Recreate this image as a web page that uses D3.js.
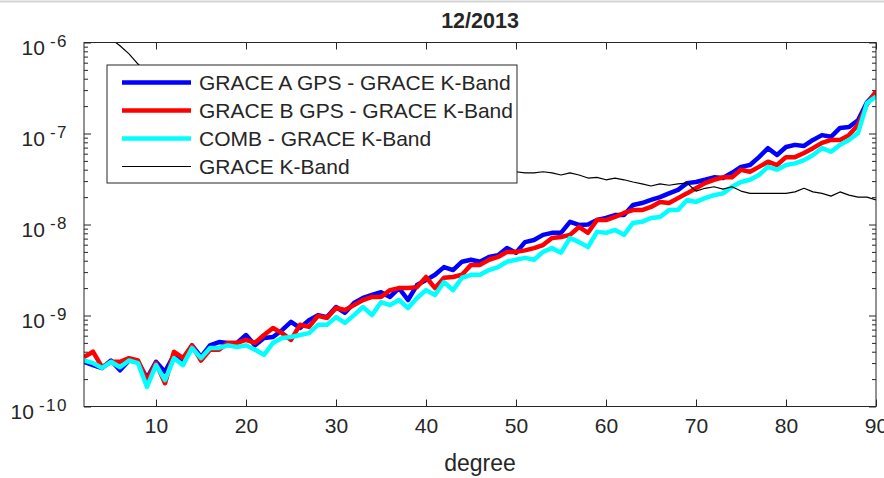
<!DOCTYPE html>
<html>
<head>
<meta charset="utf-8">
<script src="https://cdn.jsdelivr.net/npm/d3@7"></script>
<style>
  html, body { margin: 0; padding: 0; background: #fff; }
  svg { display: block; font-family: "Liberation Sans", Arial, Helvetica, sans-serif; }
</style>
</head>
<body>
<svg id="chart" width="884" height="478"></svg>
<script>
// ---------------- DATA ----------------
const title = "12/2013";
const xLabel = "degree";
const degrees = d3.range(2, 91);
const xTicks = [10, 20, 30, 40, 50, 60, 70, 80, 90];
const yTickValues = [1e-10, 1e-9, 1e-8, 1e-7, 1e-6];
const yTickExponents = ["-10", "-9", "-8", "-7", "-6"];
const seriesNames = ["GRACE A GPS - GRACE K-Band", "GRACE B GPS - GRACE K-Band", "COMB - GRACE K-Band", "GRACE K-Band"];
const seriesColors = ["#0000ff", "#ff0000", "#00ffff", "#000000"];

const graceA = [
  3.1e-10, 2.85e-10, 2.65e-10, 3.2e-10, 2.5e-10, 3.2e-10, 3.1e-10, 2.05e-10, 3.1e-10, 2.4e-10,
  3.7e-10, 3.2e-10, 4.7e-10, 3.5e-10, 4.7e-10, 5.1e-10, 5.0e-10, 5.0e-10, 6.1e-10, 4.7e-10,
  5.65e-10, 5.8e-10, 6.9e-10, 8.5e-10, 7.3e-10, 8.9e-10, 1.01e-9, 9.6e-10, 1.24e-9, 1.07e-9,
  1.37e-9, 1.56e-9, 1.68e-9, 1.8e-9, 1.6e-9, 2.0e-9, 1.48e-9, 2.16e-9, 2.45e-9, 2.8e-9,
  3.4e-9, 3.16e-9, 3.9e-9, 4.1e-9, 3.9e-9, 4.4e-9, 4.6e-9, 5.5e-9, 4.9e-9, 6.4e-9,
  6.75e-9, 7.7e-9, 8.1e-9, 8.1e-9, 1.07e-8, 9.9e-9, 1.0e-8, 1.12e-8, 1.18e-8, 1.27e-8,
  1.27e-8, 1.64e-8, 1.72e-8, 1.86e-8, 2.0e-8, 2.2e-8, 2.4e-8, 2.85e-8, 2.93e-8, 3.1e-8,
  3.3e-8, 3.24e-8, 3.7e-8, 4.3e-8, 4.5e-8, 5.5e-8, 6.9e-8, 5.8e-8, 7.1e-8, 7.5e-8,
  7.3e-8, 8.5e-8, 9.6e-8, 9.2e-8, 1.15e-7, 1.18e-7, 1.4e-7, 2.2e-7, 2.8e-7
];
const graceB = [
  3.5e-10, 4.0e-10, 2.7e-10, 3.1e-10, 3.1e-10, 3.4e-10, 3.2e-10, 1.95e-10, 3.0e-10, 1.8e-10,
  4.0e-10, 3.4e-10, 4.7e-10, 3.2e-10, 4.2e-10, 4.2e-10, 5.0e-10, 5.0e-10, 5.4e-10, 5.0e-10,
  6.1e-10, 7.3e-10, 6.4e-10, 5.4e-10, 7.9e-10, 7.5e-10, 9.9e-10, 9.4e-10, 1.21e-9, 1.15e-9,
  1.3e-9, 1.48e-9, 1.6e-9, 1.6e-9, 1.9e-9, 2.0e-9, 2.0e-9, 2.05e-9, 2.65e-9, 2.0e-9,
  2.6e-9, 2.65e-9, 2.8e-9, 3.6e-9, 3.6e-9, 4.1e-9, 4.4e-9, 5.0e-9, 5.0e-9, 5.2e-9,
  5.5e-9, 5.95e-9, 7.1e-9, 7.3e-9, 7.7e-9, 9.4e-9, 8.1e-9, 1.12e-8, 1.12e-8, 1.21e-8,
  1.34e-8, 1.44e-8, 1.44e-8, 1.56e-8, 1.77e-8, 1.72e-8, 1.95e-8, 2.2e-8, 2.5e-8, 2.85e-8,
  3.1e-8, 3.3e-8, 3.3e-8, 4.0e-8, 3.8e-8, 4.3e-8, 4.9e-8, 4.5e-8, 5.5e-8, 5.5e-8,
  6.1e-8, 6.9e-8, 7.9e-8, 8.5e-8, 8.5e-8, 9.6e-8, 1.24e-7, 2.1e-7, 2.9e-7
];
const comb = [
  3.2e-10, 3.0e-10, 2.65e-10, 3.1e-10, 2.7e-10, 3.2e-10, 3.0e-10, 1.64e-10, 2.85e-10, 1.95e-10,
  3.4e-10, 2.85e-10, 4.4e-10, 3.4e-10, 4.4e-10, 4.4e-10, 4.7e-10, 4.5e-10, 4.7e-10, 4.2e-10,
  3.7e-10, 5.0e-10, 5.65e-10, 5.8e-10, 6.1e-10, 6.4e-10, 7.9e-10, 7.9e-10, 9.6e-10, 8.3e-10,
  1.01e-9, 1.24e-9, 1.01e-9, 1.4e-9, 1.3e-9, 1.48e-9, 1.21e-9, 1.56e-9, 1.9e-9, 1.68e-9,
  2.33e-9, 1.9e-9, 2.6e-9, 2.8e-9, 2.8e-9, 3.16e-9, 3.4e-9, 3.9e-9, 4.1e-9, 4.3e-9,
  4.1e-9, 5.0e-9, 5.5e-9, 4.9e-9, 7.1e-9, 6.4e-9, 5.65e-9, 8.3e-9, 8.1e-9, 8.7e-9,
  7.7e-9, 1.04e-8, 1.07e-8, 1.18e-8, 1.21e-8, 1.44e-8, 1.44e-8, 1.86e-8, 1.77e-8, 1.95e-8,
  2.1e-8, 2.2e-8, 2.6e-8, 2.93e-8, 3.1e-8, 3.5e-8, 4.3e-8, 4.0e-8, 4.5e-8, 4.7e-8,
  5.1e-8, 5.8e-8, 6.9e-8, 6.3e-8, 7.5e-8, 8.5e-8, 1.01e-7, 2.16e-7, 2.55e-7
];
const kBand = [
  2.2e-6, 1.8e-6, 1.4e-6, 1.1e-6, 9.2e-7, 7.5e-7, 5.8e-7, 4.6e-7, 3.8e-7, 3.1e-7,
  2.6e-7, 2.2e-7, 1.9e-7, 1.65e-7, 1.45e-7, 1.3e-7, 1.15e-7, 1.05e-7, 9.6e-8, 8.9e-8,
  8.3e-8, 7.7e-8, 7.2e-8, 6.8e-8, 6.4e-8, 6.1e-8, 5.8e-8, 5.6e-8, 5.4e-8, 5.2e-8,
  5.0e-8, 4.9e-8, 4.8e-8, 4.7e-8, 4.6e-8, 4.5e-8, 4.4e-8, 4.3e-8, 4.2e-8, 4.1e-8,
  4.05e-8, 4.0e-8, 3.95e-8, 3.9e-8, 3.85e-8, 3.8e-8, 3.8e-8, 3.8e-8, 3.8e-8, 3.7e-8,
  3.7e-8, 3.8e-8, 3.7e-8, 3.5e-8, 3.7e-8, 3.5e-8, 3.24e-8, 3.3e-8, 3.1e-8, 3.24e-8,
  3.1e-8, 2.93e-8, 2.8e-8, 2.65e-8, 2.8e-8, 2.7e-8, 2.8e-8, 2.85e-8, 2.33e-8, 2.5e-8,
  2.6e-8, 2.45e-8, 2.6e-8, 2.33e-8, 2.2e-8, 2.2e-8, 2.2e-8, 2.2e-8, 2.2e-8, 2.28e-8,
  2.5e-8, 2.28e-8, 2.2e-8, 2.05e-8, 2.28e-8, 2.1e-8, 2.0e-8, 2.0e-8, 1.86e-8
];
const allSeries = [graceA, graceB, comb, kBand];
const seriesWidths = [4.5, 4.5, 4.5, 1.2];

// ---------------- LAYOUT ----------------
const svg = d3.select("#chart");
const pLeft = 84, pRight = 876, pTop = 42.5, pBottom = 406.5;
const x = d3.scaleLinear().domain([2, 90]).range([pLeft, pRight]);
const y = d3.scaleLog().domain([1e-10, 1e-6]).range([pBottom, pTop]);
const axisColor = "#262626";

// screenshot border at top
svg.append("line").attr("x1", 0).attr("x2", 884).attr("y1", 1.5).attr("y2", 1.5)
  .attr("stroke", "#d4d4d4").attr("stroke-width", 2);

svg.append("defs").append("clipPath").attr("id", "plotclip")
  .append("rect").attr("x", pLeft).attr("y", pTop).attr("width", pRight - pLeft).attr("height", pBottom - pTop);

// axes with inward ticks
const gx = svg.append("g").attr("transform", `translate(0,${pBottom})`)
  .call(d3.axisBottom(x).tickValues(xTicks).tickSize(-7).tickPadding(12).tickFormat(d3.format("d")));
const gxTop = svg.append("g").attr("transform", `translate(0,${pTop})`)
  .call(d3.axisTop(x).tickValues(xTicks).tickSize(-7).tickFormat(""));
const minorTicks = y.ticks().filter(v => !yTickValues.some(t => Math.abs(t - v) / t < 1e-6));
const gyMinor = svg.append("g").attr("transform", `translate(${pLeft},0)`)
  .call(d3.axisLeft(y).tickValues(minorTicks).tickSize(-4).tickFormat(""));
const gyMajor = svg.append("g").attr("transform", `translate(${pLeft},0)`)
  .call(d3.axisLeft(y).tickValues(yTickValues).tickSize(-7).tickFormat(""));
const gyRMinor = svg.append("g").attr("transform", `translate(${pRight},0)`)
  .call(d3.axisRight(y).tickValues(minorTicks).tickSize(-4).tickFormat(""));
const gyRMajor = svg.append("g").attr("transform", `translate(${pRight},0)`)
  .call(d3.axisRight(y).tickValues(yTickValues).tickSize(-7).tickFormat(""));
[gx, gxTop, gyMinor, gyMajor, gyRMinor, gyRMajor].forEach(g => {
  g.selectAll(".domain").remove();
  g.selectAll(".tick line").attr("stroke", axisColor).attr("stroke-width", 1);
});
gx.selectAll(".tick text").attr("font-size", 21).attr("fill", axisColor)
  .attr("font-family", "Liberation Sans, Arial, sans-serif");

// y tick labels 10^exp
const yl = svg.append("g");
yTickValues.forEach((v, i) => {
  const t = yl.append("text").attr("x", 68).attr("y", y(v) + 12.5)
    .attr("text-anchor", "end").attr("fill", axisColor).attr("font-size", 21);
  t.append("tspan").text("10");
  t.append("tspan").attr("dx", 5).attr("dy", -8.5).attr("font-size", 17)
    .attr("letter-spacing", 1.5).text(yTickExponents[i]);
});

// series lines
const line = d3.line().x((d, i) => x(degrees[i])).y(d => y(d));
const plot = svg.append("g").attr("clip-path", "url(#plotclip)");
allSeries.forEach((s, k) => {
  plot.append("path").datum(s).attr("d", line).attr("fill", "none")
    .attr("stroke", seriesColors[k]).attr("stroke-width", seriesWidths[k])
    .attr("stroke-linejoin", "round").attr("stroke-linecap", "butt");
});

// axes box
svg.append("rect").attr("x", pLeft).attr("y", pTop).attr("width", pRight - pLeft).attr("height", pBottom - pTop)
  .attr("fill", "none").attr("stroke", axisColor).attr("stroke-width", 1);

// legend
const lg = svg.append("g");
lg.append("rect").attr("x", 107).attr("y", 65).attr("width", 410).attr("height", 118)
  .attr("fill", "#fff").attr("stroke", axisColor).attr("stroke-width", 1);
seriesNames.forEach((name, k) => {
  const ly = 82.5 + k * 28;
  lg.append("line").attr("x1", 122).attr("x2", 191).attr("y1", ly).attr("y2", ly)
    .attr("stroke", seriesColors[k]).attr("stroke-width", seriesWidths[k]);
  lg.append("text").attr("x", 199).attr("y", ly + 7.5).attr("font-size", 21).attr("fill", axisColor).text(name);
});

// title & x label
svg.append("text").attr("x", (pLeft + pRight) / 2).attr("y", 28).attr("text-anchor", "middle")
  .attr("font-size", 21.5).attr("font-weight", "bold").attr("fill", axisColor).text(title);
svg.append("text").attr("x", (pLeft + pRight) / 2).attr("y", 471).attr("text-anchor", "middle")
  .attr("font-size", 23).attr("fill", axisColor).text(xLabel);
</script>
</body>
</html>
